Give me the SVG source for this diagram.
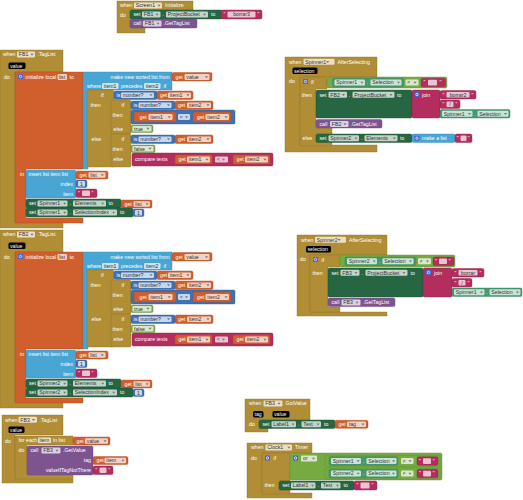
<svg xmlns="http://www.w3.org/2000/svg" width="523" height="500" viewBox="0 0 523 500">
<style>
.t{font-family:"Liberation Sans",Arial,sans-serif;font-size:5.2px;fill:#fff}
.d{fill:#333}
.ev{fill:#B18E35;stroke:#8c6f28;stroke-width:.4}
.or{fill:#D05F2D;stroke:#a84a22;stroke-width:.4}
.ls{fill:#49A6D4;stroke:#3684ab;stroke-width:.4}
.ma{fill:#3F71B5;stroke:#305a93;stroke-width:.4}
.lo{fill:#77AB41;stroke:#5e8a32;stroke-width:.4}
.tx{fill:#B32D5E;stroke:#8c2249;stroke-width:.4}
.st{fill:#266643;stroke:#1b4d32;stroke-width:.4}
.cg{fill:#439970;stroke:#347a59;stroke-width:.4}
.pu{fill:#7E5490;stroke:#634174;stroke-width:.4}
.f{fill:#fff;fill-opacity:.72}
.p{fill:#000}
.gear{fill:#4a62c9}
.gc{fill:none;stroke:#fff;stroke-width:.7}
.dd{fill:#777}
</style>
<defs>
<path id="dd" class="dd" d="M0,0h3l-1.5,2z"/>
</defs>
<rect width="523" height="500" fill="#fff"/>
<g id="connectors"/>

<g id="screen1-initialize">
<path class="ev" d="M117,1H193V10H130V28H145V33H117Z"/>
<text class="t" x="120" y="7.3">when</text>
<rect class="f" x="134" y="2.5" width="28" height="6" rx="1.2"/><text class="t d" x="135.8" y="7.3">Screen1</text><use href="#dd" x="157.5" y="4.7"/>
<text class="t" x="165" y="7.3">Initialize</text>
<text class="t" x="120" y="17">do</text>
<rect class="st" x="130" y="10" width="92" height="9" rx="1.5"/>
<text class="t" x="133.5" y="16.3">set</text>
<rect class="f" x="142" y="11.5" width="18.5" height="6" rx="1.2"/><text class="t d" x="143.8" y="16.3">FB1</text><use href="#dd" x="155.5" y="13.7"/>
<text class="t" x="162.3" y="16.3">.</text>
<rect class="f" x="166" y="11.5" width="42" height="6" rx="1.2"/><text class="t d" x="167.8" y="16.3">ProjectBucket</text><use href="#dd" x="203" y="13.7"/>
<text class="t" x="211" y="16.3">to</text>
<rect class="tx" x="221" y="10" width="41" height="9" rx="1.5"/>
<text class="t" x="223.5" y="16.3">"</text>
<rect class="f" x="227.5" y="11.5" width="28" height="6" rx="1"/><text class="t d" x="241.5" y="16.2" text-anchor="middle">borrar3</text>
<text class="t" x="257.5" y="16.3">"</text>
<rect class="pu" x="130" y="19" width="67" height="9" rx="1.5"/>
<text class="t" x="133.5" y="25.3">call</text>
<rect class="f" x="143" y="20.5" width="18.5" height="6" rx="1.2"/><text class="t d" x="144.8" y="25.3">FB1</text><use href="#dd" x="156.5" y="22.7"/>
<text class="t" x="163.5" y="25.3">.GetTagList</text>
</g>

<g id="fb1-taglist">
<path class="ev" d="M0,50H63V72H15V222H63V228H0Z"/>
<text class="t" x="3" y="56.3">when</text>
<rect class="f" x="17" y="51.5" width="18" height="6" rx="1.2"/><text class="t d" x="18.8" y="56.3">FB1</text><use href="#dd" x="30.5" y="53.7"/>
<text class="t" x="37.5" y="56.3">.TagList</text>
<rect class="p" x="8.5" y="62.5" width="17" height="6.5" rx="1.5"/><text class="t" x="10" y="67.6">value</text>
<text class="t" x="4" y="79">do</text>
<path class="or" d="M15,72H83V169H26V218H83V223H15Z"/>
<rect class="gear" x="18" y="74" width="5" height="5" rx=".6"/><circle class="gc" cx="20.5" cy="76.5" r="1.2"/>
<text class="t" x="25.5" y="78.8">initialize local</text>
<rect class="f" x="57.5" y="74" width="9.5" height="6" rx="1.2"/><text class="t d" x="58.8" y="78.8">list</text>
<text class="t" x="69.5" y="78.8">to</text>
<path class="ls" d="M83,72H172V90H88V169H83Z"/>
<text class="t" x="169.5" y="78.8" text-anchor="end">make new sorted list from</text>
<rect class="or" x="172" y="72.5" width="40" height="8.5" rx="1.5"/>
<text class="t" x="175.5" y="78.8">get</text>
<rect class="f" x="184.5" y="74" width="25" height="6" rx="1.2"/><text class="t d" x="186.3" y="78.8">value</text><use href="#dd" x="205" y="76.2"/>
<text class="t" x="87" y="88">where</text>
<rect class="f" x="102" y="83" width="16.5" height="6" rx="1.2"/><text class="t d" x="103.8" y="87.8">item1</text>
<text class="t" x="121" y="88">precedes</text>
<rect class="f" x="144" y="83" width="16.5" height="6" rx="1.2"/><text class="t d" x="145.8" y="87.8">item2</text>
<text class="t" x="163.5" y="88">if</text>
<rect class="ev" x="87" y="90" width="27" height="77" rx="1.5"/>
<text class="t" x="101" y="97">if</text>
<text class="t" x="90.5" y="107">then</text>
<text class="t" x="91.5" y="140.5">else</text>
<rect class="ev" x="111" y="100" width="20" height="34" rx="1.5"/>
<text class="t" x="121.5" y="106.6">if</text>
<text class="t" x="112.5" y="116.8">then</text>
<text class="t" x="113.5" y="130.6">else</text>
<rect class="ev" x="111" y="134" width="20" height="33" rx="1.5"/>
<text class="t" x="121.5" y="140.6">if</text>
<text class="t" x="112.5" y="150.8">then</text>
<text class="t" x="113.5" y="160.8">else</text>
<rect class="ma" x="114" y="91" width="43" height="8.5" rx="1.5"/>
<text class="t" x="116.5" y="97.3">is</text>
<rect class="f" x="121" y="92.5" width="33" height="5.5" rx="1.2"/><text class="t d" x="122.8" y="97">number?</text><use href="#dd" x="149.5" y="94.3"/>
<rect class="or" x="157" y="91" width="36" height="8.5" rx="1.5"/>
<text class="t" x="160" y="97.3">get</text>
<rect class="f" x="168" y="92.5" width="23" height="5.5" rx="1.2"/><text class="t d" x="169.8" y="97">item1</text><use href="#dd" x="186.5" y="94.3"/>
<rect class="ma" x="131" y="101" width="44" height="8.5" rx="1.5"/>
<text class="t" x="133.5" y="107.3">is</text>
<rect class="f" x="138.5" y="102.5" width="33" height="5.5" rx="1.2"/><text class="t d" x="140.3" y="107">number?</text><use href="#dd" x="167" y="104.3"/>
<rect class="or" x="175" y="101" width="38" height="8.5" rx="1.5"/>
<text class="t" x="178" y="107.3">get</text>
<rect class="f" x="187" y="102.5" width="24" height="5.5" rx="1.2"/><text class="t d" x="188.8" y="107">item2</text><use href="#dd" x="206.5" y="104.3"/>
<rect class="ma" x="131" y="110" width="104" height="14" rx="1.5"/>
<rect class="or" x="134" y="112" width="42" height="10" rx="1.5"/>
<text class="t" x="139.5" y="118.8">get</text>
<rect class="f" x="148.5" y="114" width="24" height="6" rx="1.2"/><text class="t d" x="150.3" y="118.8">item1</text><use href="#dd" x="167.8" y="116.2"/>
<rect class="f" x="178" y="114" width="12" height="6" rx="1.2"/><text class="t d" x="179.8" y="118.8">&lt;</text><use href="#dd" x="185" y="116.2"/>
<rect class="or" x="193" y="112" width="38" height="10" rx="1.5"/>
<text class="t" x="197" y="118.8">get</text>
<rect class="f" x="205.5" y="114" width="23.5" height="6" rx="1.2"/><text class="t d" x="207.3" y="118.8">item2</text><use href="#dd" x="224.5" y="116.2"/>
<rect class="lo" x="131" y="125" width="22" height="7.5" rx="1.5"/>
<rect class="f" x="132.5" y="126" width="19" height="5.5" rx="1.2"/><text class="t d" x="134" y="130.5">true</text><use href="#dd" x="146.5" y="127.8"/>
<rect class="ma" x="131" y="135" width="44" height="8.5" rx="1.5"/>
<text class="t" x="133.5" y="141.3">is</text>
<rect class="f" x="138.5" y="136.5" width="33" height="5.5" rx="1.2"/><text class="t d" x="140.3" y="141">number?</text><use href="#dd" x="167" y="138.3"/>
<rect class="or" x="175" y="135" width="38" height="8.5" rx="1.5"/>
<text class="t" x="178" y="141.3">get</text>
<rect class="f" x="187" y="136.5" width="24" height="5.5" rx="1.2"/><text class="t d" x="188.8" y="141">item2</text><use href="#dd" x="206.5" y="138.3"/>
<rect class="lo" x="131" y="145" width="24" height="7.5" rx="1.5"/>
<rect class="f" x="132.5" y="146" width="21" height="5.5" rx="1.2"/><text class="t d" x="134" y="150.5">false</text><use href="#dd" x="148.5" y="147.8"/>
<rect class="tx" x="132" y="153" width="141" height="13" rx="1.5"/>
<text class="t" x="135" y="161.3">compare texts</text>
<rect class="or" x="175" y="155" width="37" height="9" rx="1.5"/>
<text class="t" x="178.5" y="161.3">get</text>
<rect class="f" x="187" y="156.5" width="23" height="6" rx="1.2"/><text class="t d" x="188.8" y="161.2">item1</text><use href="#dd" x="205.5" y="158.7"/>
<rect class="f" x="215" y="156.5" width="13" height="6" rx="1.2"/><text class="t d" x="216.8" y="161.2">&lt;</text><use href="#dd" x="222" y="158.7"/>
<rect class="or" x="233" y="155" width="37" height="9" rx="1.5"/>
<text class="t" x="236.5" y="161.3">get</text>
<rect class="f" x="245" y="156.5" width="23" height="6" rx="1.2"/><text class="t d" x="246.8" y="161.2">item2</text><use href="#dd" x="263.5" y="158.7"/>
<text class="t" x="20" y="175.5">in</text>
<rect class="ls" x="26" y="170" width="50" height="28" rx="1.5"/>
<text class="t" x="28.5" y="176.3">insert list item list</text>
<text class="t" x="73" y="186" text-anchor="end">index</text>
<text class="t" x="73" y="195.5" text-anchor="end">item</text>
<rect class="or" x="76" y="171" width="32" height="8" rx="1.5"/>
<text class="t" x="79.5" y="177">get</text>
<rect class="f" x="88.5" y="172.2" width="17" height="5.6" rx="1.2"/><text class="t d" x="90.3" y="176.8">list</text><use href="#dd" x="100.8" y="174.2"/>
<rect class="ma" x="76" y="180" width="11" height="7.5" rx="1.5"/>
<rect class="f" x="78" y="181" width="7" height="5.5" rx="1"/><text class="t d" x="79.9" y="185.5">1</text>
<rect class="tx" x="76" y="189" width="21" height="8.5" rx="1.5"/>
<text class="t" x="78" y="195.3">"</text>
<rect class="f" x="82" y="190.5" width="8" height="5.5" rx="1"/>
<text class="t" x="91.5" y="195.3">"</text>
<rect class="st" x="26" y="199" width="95" height="9" rx="1.5"/>
<text class="t" x="29" y="205.3">set</text>
<rect class="f" x="37.5" y="200.5" width="30" height="6" rx="1.2"/><text class="t d" x="39.3" y="205.3">Spinner1</text><use href="#dd" x="63.2" y="202.7"/>
<text class="t" x="69.5" y="205.3">.</text>
<rect class="f" x="73" y="200.5" width="33" height="6" rx="1.2"/><text class="t d" x="74.8" y="205.3">Elements</text><use href="#dd" x="101.2" y="202.7"/>
<text class="t" x="108.5" y="205.3">to</text>
<rect class="or" x="121" y="200" width="31" height="8" rx="1.5"/>
<text class="t" x="124.5" y="205.8">get</text>
<rect class="f" x="133.5" y="201.2" width="16.5" height="5.6" rx="1.2"/><text class="t d" x="135.3" y="205.8">list</text><use href="#dd" x="145.6" y="203.2"/>
<rect class="st" x="26" y="208" width="107" height="9" rx="1.5"/>
<text class="t" x="29" y="214.3">set</text>
<rect class="f" x="37.5" y="209.5" width="30" height="6" rx="1.2"/><text class="t d" x="39.3" y="214.3">Spinner1</text><use href="#dd" x="63.2" y="211.7"/>
<text class="t" x="69.5" y="214.3">.</text>
<rect class="f" x="73" y="209.5" width="44" height="6" rx="1.2"/><text class="t d" x="74.8" y="214.3">SelectionIndex</text><use href="#dd" x="112.2" y="211.7"/>
<text class="t" x="120" y="214.3">to</text>
<rect class="ma" x="133" y="209" width="11" height="7.5" rx="1.5"/>
<rect class="f" x="135" y="210" width="7" height="5.5" rx="1"/><text class="t d" x="136.9" y="214.5">1</text>
</g>

<g id="fb2-taglist" transform="translate(0,180)">
<path class="ev" d="M0,50H63V72H15V222H63V228H0Z"/>
<text class="t" x="3" y="56.3">when</text>
<rect class="f" x="17" y="51.5" width="18" height="6" rx="1.2"/><text class="t d" x="18.8" y="56.3">FB2</text><use href="#dd" x="30.5" y="53.7"/>
<text class="t" x="37.5" y="56.3">.TagList</text>
<rect class="p" x="8.5" y="62.5" width="17" height="6.5" rx="1.5"/><text class="t" x="10" y="67.6">value</text>
<text class="t" x="4" y="79">do</text>
<path class="or" d="M15,72H83V169H26V218H83V223H15Z"/>
<rect class="gear" x="18" y="74" width="5" height="5" rx=".6"/><circle class="gc" cx="20.5" cy="76.5" r="1.2"/>
<text class="t" x="25.5" y="78.8">initialize local</text>
<rect class="f" x="57.5" y="74" width="9.5" height="6" rx="1.2"/><text class="t d" x="58.8" y="78.8">list</text>
<text class="t" x="69.5" y="78.8">to</text>
<path class="ls" d="M83,72H172V90H88V169H83Z"/>
<text class="t" x="169.5" y="78.8" text-anchor="end">make new sorted list from</text>
<rect class="or" x="172" y="72.5" width="40" height="8.5" rx="1.5"/>
<text class="t" x="175.5" y="78.8">get</text>
<rect class="f" x="184.5" y="74" width="25" height="6" rx="1.2"/><text class="t d" x="186.3" y="78.8">value</text><use href="#dd" x="205" y="76.2"/>
<text class="t" x="87" y="88">where</text>
<rect class="f" x="102" y="83" width="16.5" height="6" rx="1.2"/><text class="t d" x="103.8" y="87.8">item1</text>
<text class="t" x="121" y="88">precedes</text>
<rect class="f" x="144" y="83" width="16.5" height="6" rx="1.2"/><text class="t d" x="145.8" y="87.8">item2</text>
<text class="t" x="163.5" y="88">if</text>
<rect class="ev" x="87" y="90" width="27" height="77" rx="1.5"/>
<text class="t" x="101" y="97">if</text>
<text class="t" x="90.5" y="107">then</text>
<text class="t" x="91.5" y="140.5">else</text>
<rect class="ev" x="111" y="100" width="20" height="34" rx="1.5"/>
<text class="t" x="121.5" y="106.6">if</text>
<text class="t" x="112.5" y="116.8">then</text>
<text class="t" x="113.5" y="130.6">else</text>
<rect class="ev" x="111" y="134" width="20" height="33" rx="1.5"/>
<text class="t" x="121.5" y="140.6">if</text>
<text class="t" x="112.5" y="150.8">then</text>
<text class="t" x="113.5" y="160.8">else</text>
<rect class="ma" x="114" y="91" width="43" height="8.5" rx="1.5"/>
<text class="t" x="116.5" y="97.3">is</text>
<rect class="f" x="121" y="92.5" width="33" height="5.5" rx="1.2"/><text class="t d" x="122.8" y="97">number?</text><use href="#dd" x="149.5" y="94.3"/>
<rect class="or" x="157" y="91" width="36" height="8.5" rx="1.5"/>
<text class="t" x="160" y="97.3">get</text>
<rect class="f" x="168" y="92.5" width="23" height="5.5" rx="1.2"/><text class="t d" x="169.8" y="97">item1</text><use href="#dd" x="186.5" y="94.3"/>
<rect class="ma" x="131" y="101" width="44" height="8.5" rx="1.5"/>
<text class="t" x="133.5" y="107.3">is</text>
<rect class="f" x="138.5" y="102.5" width="33" height="5.5" rx="1.2"/><text class="t d" x="140.3" y="107">number?</text><use href="#dd" x="167" y="104.3"/>
<rect class="or" x="175" y="101" width="38" height="8.5" rx="1.5"/>
<text class="t" x="178" y="107.3">get</text>
<rect class="f" x="187" y="102.5" width="24" height="5.5" rx="1.2"/><text class="t d" x="188.8" y="107">item2</text><use href="#dd" x="206.5" y="104.3"/>
<rect class="ma" x="131" y="110" width="104" height="14" rx="1.5"/>
<rect class="or" x="134" y="112" width="42" height="10" rx="1.5"/>
<text class="t" x="139.5" y="118.8">get</text>
<rect class="f" x="148.5" y="114" width="24" height="6" rx="1.2"/><text class="t d" x="150.3" y="118.8">item1</text><use href="#dd" x="167.8" y="116.2"/>
<rect class="f" x="178" y="114" width="12" height="6" rx="1.2"/><text class="t d" x="179.8" y="118.8">&lt;</text><use href="#dd" x="185" y="116.2"/>
<rect class="or" x="193" y="112" width="38" height="10" rx="1.5"/>
<text class="t" x="197" y="118.8">get</text>
<rect class="f" x="205.5" y="114" width="23.5" height="6" rx="1.2"/><text class="t d" x="207.3" y="118.8">item2</text><use href="#dd" x="224.5" y="116.2"/>
<rect class="lo" x="131" y="125" width="22" height="7.5" rx="1.5"/>
<rect class="f" x="132.5" y="126" width="19" height="5.5" rx="1.2"/><text class="t d" x="134" y="130.5">true</text><use href="#dd" x="146.5" y="127.8"/>
<rect class="ma" x="131" y="135" width="44" height="8.5" rx="1.5"/>
<text class="t" x="133.5" y="141.3">is</text>
<rect class="f" x="138.5" y="136.5" width="33" height="5.5" rx="1.2"/><text class="t d" x="140.3" y="141">number?</text><use href="#dd" x="167" y="138.3"/>
<rect class="or" x="175" y="135" width="38" height="8.5" rx="1.5"/>
<text class="t" x="178" y="141.3">get</text>
<rect class="f" x="187" y="136.5" width="24" height="5.5" rx="1.2"/><text class="t d" x="188.8" y="141">item2</text><use href="#dd" x="206.5" y="138.3"/>
<rect class="lo" x="131" y="145" width="24" height="7.5" rx="1.5"/>
<rect class="f" x="132.5" y="146" width="21" height="5.5" rx="1.2"/><text class="t d" x="134" y="150.5">false</text><use href="#dd" x="148.5" y="147.8"/>
<rect class="tx" x="132" y="153" width="141" height="13" rx="1.5"/>
<text class="t" x="135" y="161.3">compare texts</text>
<rect class="or" x="175" y="155" width="37" height="9" rx="1.5"/>
<text class="t" x="178.5" y="161.3">get</text>
<rect class="f" x="187" y="156.5" width="23" height="6" rx="1.2"/><text class="t d" x="188.8" y="161.2">item1</text><use href="#dd" x="205.5" y="158.7"/>
<rect class="f" x="215" y="156.5" width="13" height="6" rx="1.2"/><text class="t d" x="216.8" y="161.2">&lt;</text><use href="#dd" x="222" y="158.7"/>
<rect class="or" x="233" y="155" width="37" height="9" rx="1.5"/>
<text class="t" x="236.5" y="161.3">get</text>
<rect class="f" x="245" y="156.5" width="23" height="6" rx="1.2"/><text class="t d" x="246.8" y="161.2">item2</text><use href="#dd" x="263.5" y="158.7"/>
<text class="t" x="20" y="175.5">in</text>
<rect class="ls" x="26" y="170" width="50" height="28" rx="1.5"/>
<text class="t" x="28.5" y="176.3">insert list item list</text>
<text class="t" x="73" y="186" text-anchor="end">index</text>
<text class="t" x="73" y="195.5" text-anchor="end">item</text>
<rect class="or" x="76" y="171" width="32" height="8" rx="1.5"/>
<text class="t" x="79.5" y="177">get</text>
<rect class="f" x="88.5" y="172.2" width="17" height="5.6" rx="1.2"/><text class="t d" x="90.3" y="176.8">list</text><use href="#dd" x="100.8" y="174.2"/>
<rect class="ma" x="76" y="180" width="11" height="7.5" rx="1.5"/>
<rect class="f" x="78" y="181" width="7" height="5.5" rx="1"/><text class="t d" x="79.9" y="185.5">1</text>
<rect class="tx" x="76" y="189" width="21" height="8.5" rx="1.5"/>
<text class="t" x="78" y="195.3">"</text>
<rect class="f" x="82" y="190.5" width="8" height="5.5" rx="1"/>
<text class="t" x="91.5" y="195.3">"</text>
<rect class="st" x="26" y="199" width="95" height="9" rx="1.5"/>
<text class="t" x="29" y="205.3">set</text>
<rect class="f" x="37.5" y="200.5" width="30" height="6" rx="1.2"/><text class="t d" x="39.3" y="205.3">Spinner2</text><use href="#dd" x="63.2" y="202.7"/>
<text class="t" x="69.5" y="205.3">.</text>
<rect class="f" x="73" y="200.5" width="33" height="6" rx="1.2"/><text class="t d" x="74.8" y="205.3">Elements</text><use href="#dd" x="101.2" y="202.7"/>
<text class="t" x="108.5" y="205.3">to</text>
<rect class="or" x="121" y="200" width="31" height="8" rx="1.5"/>
<text class="t" x="124.5" y="205.8">get</text>
<rect class="f" x="133.5" y="201.2" width="16.5" height="5.6" rx="1.2"/><text class="t d" x="135.3" y="205.8">list</text><use href="#dd" x="145.6" y="203.2"/>
<rect class="st" x="26" y="208" width="107" height="9" rx="1.5"/>
<text class="t" x="29" y="214.3">set</text>
<rect class="f" x="37.5" y="209.5" width="30" height="6" rx="1.2"/><text class="t d" x="39.3" y="214.3">Spinner2</text><use href="#dd" x="63.2" y="211.7"/>
<text class="t" x="69.5" y="214.3">.</text>
<rect class="f" x="73" y="209.5" width="44" height="6" rx="1.2"/><text class="t d" x="74.8" y="214.3">SelectionIndex</text><use href="#dd" x="112.2" y="211.7"/>
<text class="t" x="120" y="214.3">to</text>
<rect class="ma" x="133" y="209" width="11" height="7.5" rx="1.5"/>
<rect class="f" x="135" y="210" width="7" height="5.5" rx="1"/><text class="t d" x="136.9" y="214.5">1</text>
</g>

<g id="spinner1-afterselecting">
<path class="ev" d="M285,57H377V77H300V145H377V152H285Z"/>
<text class="t" x="289" y="63.5">when</text>
<rect class="f" x="303.5" y="58.7" width="31" height="6" rx="1.2"/><text class="t d" x="305.3" y="63.5">Spinner1</text><use href="#dd" x="326.2" y="60.9"/>
<text class="t" x="337.5" y="63.5">AfterSelecting</text>
<rect class="p" x="292.5" y="67.5" width="25" height="6.5" rx="1.5"/><text class="t" x="294" y="72.6">selection</text>
<text class="t" x="289" y="83">do</text>
<path class="ev" d="M300,77H327V89H316V128H332V134H316V142H332V146H300Z"/>
<rect class="gear" x="303" y="79" width="5" height="5" rx=".6"/><circle class="gc" cx="305.5" cy="81.5" r="1.2"/>
<text class="t" x="311" y="83.6">if</text>
<text class="t" x="301.8" y="96.6">then</text>
<text class="t" x="302.5" y="140.3">else</text>
<rect class="lo" x="327" y="77" width="120" height="11" rx="1.5"/>
<rect class="cg" x="332.5" y="78.3" width="71" height="8.5" rx="1.5"/>
<rect class="f" x="334.5" y="79.6" width="30.5" height="6" rx="1.2"/><text class="t d" x="336.3" y="84.4">Spinner1</text><use href="#dd" x="360.5" y="81.8"/>
<text class="t" x="366.8" y="84.4">.</text>
<rect class="f" x="370.5" y="79.6" width="31" height="6" rx="1.2"/><text class="t d" x="372.3" y="84.4">Selection</text><use href="#dd" x="397" y="81.8"/>
<rect class="f" x="405.5" y="79.6" width="13" height="6" rx="1.2"/><text class="t d" x="407.3" y="84.4">≠</text><use href="#dd" x="413.5" y="81.8"/>
<rect class="tx" x="421" y="78.3" width="24.5" height="8.5" rx="1.5"/>
<text class="t" x="423.5" y="84.4">"</text>
<rect class="f" x="428" y="79.8" width="9" height="5.6" rx="1"/>
<text class="t" x="439.5" y="84.4">"</text>
<rect class="st" x="316" y="90" width="96" height="28" rx="1.5"/>
<text class="t" x="319.5" y="96.5">set</text>
<rect class="f" x="328.5" y="91.7" width="18.5" height="6" rx="1.2"/><text class="t d" x="330.3" y="96.5">FB2</text><use href="#dd" x="342" y="93.9"/>
<text class="t" x="348.8" y="96.5">.</text>
<rect class="f" x="352.5" y="91.7" width="42" height="6" rx="1.2"/><text class="t d" x="354.3" y="96.5">ProjectBucket</text><use href="#dd" x="389.5" y="93.9"/>
<text class="t" x="397" y="96.5">to</text>
<rect class="tx" x="412" y="90" width="28" height="28" rx="1.5"/>
<rect class="gear" x="414.5" y="92" width="5" height="5" rx=".6"/><circle class="gc" cx="417" cy="94.5" r="1.2"/>
<text class="t" x="422" y="96.5">join</text>
<rect class="tx" x="440" y="90.5" width="36" height="8.5" rx="1.5"/>
<text class="t" x="442.5" y="96.6">"</text>
<rect class="f" x="446.5" y="92" width="23" height="5.6" rx="1"/><text class="t d" x="458" y="96.5" text-anchor="middle">borrar2</text>
<text class="t" x="471.5" y="96.6">"</text>
<rect class="tx" x="440" y="100" width="20" height="8.5" rx="1.5"/>
<text class="t" x="442.5" y="106.1">"</text>
<rect class="f" x="446.5" y="101.5" width="7" height="5.6" rx="1"/><text class="t d" x="450" y="106" text-anchor="middle">/</text>
<text class="t" x="455.5" y="106.1">"</text>
<rect class="cg" x="440" y="109.5" width="70" height="8.5" rx="1.5"/>
<rect class="f" x="442" y="110.8" width="30.5" height="6" rx="1.2"/><text class="t d" x="443.8" y="115.6">Spinner1</text><use href="#dd" x="468" y="113"/>
<text class="t" x="474" y="115.6">.</text>
<rect class="f" x="477.5" y="110.8" width="31" height="6" rx="1.2"/><text class="t d" x="479.3" y="115.6">Selection</text><use href="#dd" x="504" y="113"/>
<rect class="pu" x="316" y="119.5" width="66" height="8.5" rx="1.5"/>
<text class="t" x="319.5" y="125.8">call</text>
<rect class="f" x="330" y="121" width="18.5" height="6" rx="1.2"/><text class="t d" x="331.8" y="125.8">FB2</text><use href="#dd" x="343.5" y="123.2"/>
<text class="t" x="350.5" y="125.8">.GetTagList</text>
<rect class="st" x="316" y="134" width="96" height="8.5" rx="1.5"/>
<text class="t" x="319.5" y="140.3">set</text>
<rect class="f" x="328.5" y="135.3" width="30.5" height="6" rx="1.2"/><text class="t d" x="330.3" y="140.1">Spinner2</text><use href="#dd" x="354.5" y="137.5"/>
<text class="t" x="361" y="140.3">.</text>
<rect class="f" x="364.5" y="135.3" width="33" height="6" rx="1.2"/><text class="t d" x="366.3" y="140.1">Elements</text><use href="#dd" x="392.8" y="137.5"/>
<text class="t" x="400" y="140.3">to</text>
<rect class="ls" x="412" y="134" width="43" height="8.5" rx="1.5"/>
<rect class="gear" x="414.5" y="135.7" width="5" height="5" rx=".6"/><circle class="gc" cx="417" cy="138.2" r="1.2"/>
<text class="t" x="422" y="140.3">make a list</text>
<rect class="tx" x="455" y="134" width="17" height="8.5" rx="1.5"/>
<text class="t" x="456.8" y="140.3">"</text>
<rect class="f" x="460.5" y="135.5" width="6" height="5.6" rx="1"/>
<text class="t" x="467.8" y="140.3">"</text>
</g>

<g id="spinner2-afterselecting">
<path class="ev" d="M297,235H387V255H310V312H387V316H297Z"/>
<text class="t" x="301" y="241.5">when</text>
<rect class="f" x="315" y="236.7" width="31" height="6" rx="1.2"/><text class="t d" x="316.8" y="241.5">Spinner2</text><use href="#dd" x="337.7" y="238.9"/>
<text class="t" x="349" y="241.5">AfterSelecting</text>
<rect class="p" x="306" y="246" width="25" height="6.5" rx="1.5"/><text class="t" x="307.5" y="251.1">selection</text>
<text class="t" x="300" y="261">do</text>
<path class="ev" d="M310,255H340V267H328V307H340V312H310Z"/>
<rect class="gear" x="313" y="257" width="5" height="5" rx=".6"/><circle class="gc" cx="315.5" cy="259.5" r="1.2"/>
<text class="t" x="321.5" y="261.6">if</text>
<text class="t" x="312.5" y="275">then</text>
<rect class="lo" x="340" y="255" width="115" height="12" rx="1.5"/>
<rect class="cg" x="345" y="257" width="71" height="8.5" rx="1.5"/>
<rect class="f" x="347" y="258.3" width="30" height="6" rx="1.2"/><text class="t d" x="348.8" y="263.1">Spinner2</text><use href="#dd" x="372.7" y="260.5"/>
<text class="t" x="379" y="263.1">.</text>
<rect class="f" x="382.5" y="258.3" width="31" height="6" rx="1.2"/><text class="t d" x="384.3" y="263.1">Selection</text><use href="#dd" x="409" y="260.5"/>
<rect class="f" x="418" y="258.3" width="13" height="6" rx="1.2"/><text class="t d" x="419.8" y="263.1">≠</text><use href="#dd" x="426" y="260.5"/>
<rect class="tx" x="433" y="257" width="21" height="8.5" rx="1.5"/>
<text class="t" x="435" y="263.1">"</text>
<rect class="f" x="439" y="258.5" width="8" height="5.6" rx="1"/>
<text class="t" x="448.8" y="263.1">"</text>
<rect class="st" x="328" y="268" width="95" height="29" rx="1.5"/>
<text class="t" x="331.5" y="274.5">set</text>
<rect class="f" x="340.5" y="269.7" width="19" height="6" rx="1.2"/><text class="t d" x="342.3" y="274.5">FB3</text><use href="#dd" x="354.5" y="271.9"/>
<text class="t" x="361.5" y="274.5">.</text>
<rect class="f" x="365.5" y="269.7" width="42" height="6" rx="1.2"/><text class="t d" x="367.3" y="274.5">ProjectBucket</text><use href="#dd" x="402.5" y="271.9"/>
<text class="t" x="410.5" y="274.5">to</text>
<rect class="tx" x="423" y="268" width="29" height="29" rx="1.5"/>
<rect class="gear" x="426" y="270" width="5" height="5" rx=".6"/><circle class="gc" cx="428.5" cy="272.5" r="1.2"/>
<text class="t" x="434" y="274.5">join</text>
<rect class="tx" x="452" y="268.5" width="32" height="8.5" rx="1.5"/>
<text class="t" x="454.5" y="274.6">"</text>
<rect class="f" x="458.5" y="270" width="19" height="5.6" rx="1"/><text class="t d" x="468" y="274.5" text-anchor="middle">borrar</text>
<text class="t" x="479.5" y="274.6">"</text>
<rect class="tx" x="452" y="278.5" width="20" height="8.5" rx="1.5"/>
<text class="t" x="454.5" y="284.6">"</text>
<rect class="f" x="458.5" y="280" width="7" height="5.6" rx="1"/><text class="t d" x="462" y="284.5" text-anchor="middle">/</text>
<text class="t" x="467.5" y="284.6">"</text>
<rect class="cg" x="452" y="288" width="70" height="8.5" rx="1.5"/>
<rect class="f" x="454" y="289.3" width="30.5" height="6" rx="1.2"/><text class="t d" x="455.8" y="294.1">Spinner1</text><use href="#dd" x="480" y="291.5"/>
<text class="t" x="486" y="294.1">.</text>
<rect class="f" x="489.5" y="289.3" width="31" height="6" rx="1.2"/><text class="t d" x="491.3" y="294.1">Selection</text><use href="#dd" x="516" y="291.5"/>
<rect class="pu" x="328" y="298" width="67" height="8.5" rx="1.5"/>
<text class="t" x="331.5" y="304.3">call</text>
<rect class="f" x="341.5" y="299.5" width="19" height="6" rx="1.2"/><text class="t d" x="343.3" y="304.3">FB3</text><use href="#dd" x="355.5" y="301.7"/>
<text class="t" x="363" y="304.3">.GetTagList</text>
</g>

<g id="fb3-taglist">
<path class="ev" d="M2,415H63V435H15V478H73V483H2Z"/>
<text class="t" x="5" y="421.5">when</text>
<rect class="f" x="18.5" y="416.7" width="18.5" height="6" rx="1.2"/><text class="t d" x="20.3" y="421.5">FB3</text><use href="#dd" x="32" y="418.9"/>
<text class="t" x="39.5" y="421.5">.TagList</text>
<rect class="p" x="8.5" y="426.5" width="16" height="6.5" rx="1.5"/><text class="t" x="9.8" y="431.6">value</text>
<text class="t" x="5" y="443">do</text>
<path class="ev" d="M15,436H73V445H27V474H73V479H15Z"/>
<text class="t" x="18.5" y="442.3">for each</text>
<rect class="f" x="38" y="437.5" width="13" height="5.6" rx="1.2"/><text class="t d" x="39.5" y="442.1">item</text>
<text class="t" x="53" y="442.3">in list</text>
<rect class="or" x="73" y="437" width="37" height="8" rx="1.5"/>
<text class="t" x="76.5" y="442.8">get</text>
<rect class="f" x="85" y="438.2" width="23" height="5.6" rx="1.2"/><text class="t d" x="86.8" y="442.8">value</text><use href="#dd" x="103.5" y="440.2"/>
<text class="t" x="18.5" y="452">do</text>
<rect class="pu" x="27" y="446" width="66" height="29" rx="1.5"/>
<text class="t" x="30.5" y="452.3">call</text>
<rect class="f" x="41.5" y="447.5" width="19" height="6" rx="1.2"/><text class="t d" x="43.3" y="452.3">FB3</text><use href="#dd" x="55.5" y="449.7"/>
<text class="t" x="63" y="452.3">.GetValue</text>
<text class="t" x="91" y="462.3" text-anchor="end">tag</text>
<text class="t" x="91" y="472.3" text-anchor="end">valueIfTagNotThere</text>
<rect class="or" x="93" y="456.5" width="35" height="8" rx="1.5"/>
<text class="t" x="96.5" y="462.3">get</text>
<rect class="f" x="104.5" y="457.7" width="21.5" height="5.6" rx="1.2"/><text class="t d" x="106.3" y="462.3">item</text><use href="#dd" x="121.5" y="459.7"/>
<rect class="tx" x="93" y="466" width="20" height="8.5" rx="1.5"/>
<text class="t" x="95.3" y="472.3">"</text>
<rect class="f" x="99.5" y="467.5" width="7" height="5.6" rx="1"/>
<text class="t" x="108.3" y="472.3">"</text>
</g>

<g id="fb3-gotvalue">
<path class="ev" d="M245,399H310V420H259V428H268V432H245Z"/>
<text class="t" x="249" y="405.3">when</text>
<rect class="f" x="263.5" y="400.5" width="19" height="6" rx="1.2"/><text class="t d" x="265.3" y="405.3">FB3</text><use href="#dd" x="277.5" y="402.7"/>
<text class="t" x="285.5" y="405.3">GotValue</text>
<rect class="p" x="253" y="411" width="10.5" height="6.5" rx="1.5"/><text class="t" x="254.5" y="416.1">tag</text>
<rect class="p" x="272.5" y="411" width="17" height="6.5" rx="1.5"/><text class="t" x="274" y="416.1">value</text>
<text class="t" x="249" y="426.3">do</text>
<rect class="st" x="259" y="420" width="76" height="8.5" rx="1.5"/>
<text class="t" x="262.5" y="426.3">set</text>
<rect class="f" x="271.5" y="421.3" width="24.5" height="6" rx="1.2"/><text class="t d" x="273.3" y="426.1">Label1</text><use href="#dd" x="291.5" y="423.5"/>
<text class="t" x="298" y="426.3">.</text>
<rect class="f" x="301.5" y="421.3" width="19.5" height="6" rx="1.2"/><text class="t d" x="303.3" y="426.1">Text</text><use href="#dd" x="316.5" y="423.5"/>
<text class="t" x="324" y="426.3">to</text>
<rect class="or" x="335" y="420.3" width="33" height="8" rx="1.5"/>
<text class="t" x="338.5" y="426.3">get</text>
<rect class="f" x="347" y="421.5" width="19" height="5.6" rx="1.2"/><text class="t d" x="348.8" y="426.1">tag</text><use href="#dd" x="361.5" y="423.5"/>
</g>

<g id="clock1-timer">
<path class="ev" d="M247,443H312V453H262V493H312V498H247Z"/>
<text class="t" x="251" y="449.3">when</text>
<rect class="f" x="265.5" y="444.5" width="26.5" height="6" rx="1.2"/><text class="t d" x="267.3" y="449.3">Clock1</text><use href="#dd" x="287.5" y="446.7"/>
<text class="t" x="295" y="449.3">Timer</text>
<text class="t" x="251" y="460.3">do</text>
<path class="ev" d="M262,453H290V481H279V490H290V494H262Z"/>
<rect class="gear" x="265" y="455.5" width="5" height="5" rx=".6"/><circle class="gc" cx="267.5" cy="458" r="1.2"/>
<text class="t" x="273.5" y="460.3">if</text>
<text class="t" x="264.5" y="487.3">then</text>
<rect class="lo" x="290" y="453" width="152" height="27" rx="1.5"/>
<rect class="gear" x="293" y="455.5" width="5" height="5" rx=".6"/><circle class="gc" cx="295.5" cy="458" r="1.2"/>
<rect class="f" x="301" y="455.5" width="16" height="6" rx="1.2"/><text class="t d" x="303" y="460.3">or</text><use href="#dd" x="312" y="457.7"/>
<rect class="lo" x="325" y="455.5" width="115" height="11" rx="1.5"/>
<rect class="cg" x="329" y="456.8" width="69" height="8.5" rx="1.5"/>
<rect class="f" x="331" y="458" width="30" height="6" rx="1.2"/><text class="t d" x="332.8" y="462.8">Spinner1</text><use href="#dd" x="356.7" y="460.2"/>
<text class="t" x="363" y="462.8">.</text>
<rect class="f" x="366.5" y="458" width="30" height="6" rx="1.2"/><text class="t d" x="368.3" y="462.8">Selection</text><use href="#dd" x="392" y="460.2"/>
<rect class="f" x="401" y="458" width="12.5" height="6" rx="1.2"/><text class="t d" x="402.8" y="462.8">≠</text><use href="#dd" x="408.5" y="460.2"/>
<rect class="tx" x="417" y="456.8" width="21" height="8.5" rx="1.5"/>
<text class="t" x="419" y="462.9">"</text>
<rect class="f" x="423" y="458.3" width="8" height="5.6" rx="1"/>
<text class="t" x="432.8" y="462.9">"</text>
<rect class="lo" x="325" y="468" width="115" height="11" rx="1.5"/>
<rect class="cg" x="329" y="469.3" width="69" height="8.5" rx="1.5"/>
<rect class="f" x="331" y="470.5" width="30" height="6" rx="1.2"/><text class="t d" x="332.8" y="475.3">Spinner2</text><use href="#dd" x="356.7" y="472.7"/>
<text class="t" x="363" y="475.3">.</text>
<rect class="f" x="366.5" y="470.5" width="30" height="6" rx="1.2"/><text class="t d" x="368.3" y="475.3">Selection</text><use href="#dd" x="392" y="472.7"/>
<rect class="f" x="401" y="470.5" width="12.5" height="6" rx="1.2"/><text class="t d" x="402.8" y="475.3">≠</text><use href="#dd" x="408.5" y="472.7"/>
<rect class="tx" x="417" y="469.3" width="21" height="8.5" rx="1.5"/>
<text class="t" x="419" y="475.4">"</text>
<rect class="f" x="423" y="470.8" width="8" height="5.6" rx="1"/>
<text class="t" x="432.8" y="475.4">"</text>
<rect class="st" x="279" y="481" width="75" height="9" rx="1.5"/>
<text class="t" x="282.5" y="487.3">set</text>
<rect class="f" x="291" y="482.5" width="24.5" height="6" rx="1.2"/><text class="t d" x="292.8" y="487.3">Label1</text><use href="#dd" x="311" y="484.7"/>
<text class="t" x="317.5" y="487.3">.</text>
<rect class="f" x="321" y="482.5" width="19.5" height="6" rx="1.2"/><text class="t d" x="322.8" y="487.3">Text</text><use href="#dd" x="336" y="484.7"/>
<text class="t" x="343.5" y="487.3">to</text>
<rect class="tx" x="354" y="481" width="23" height="9" rx="1.5"/>
<text class="t" x="356.5" y="487.3">"</text>
<rect class="f" x="360.5" y="482.5" width="9" height="6" rx="1"/>
<text class="t" x="371.5" y="487.3">"</text>
</g>
</svg>
